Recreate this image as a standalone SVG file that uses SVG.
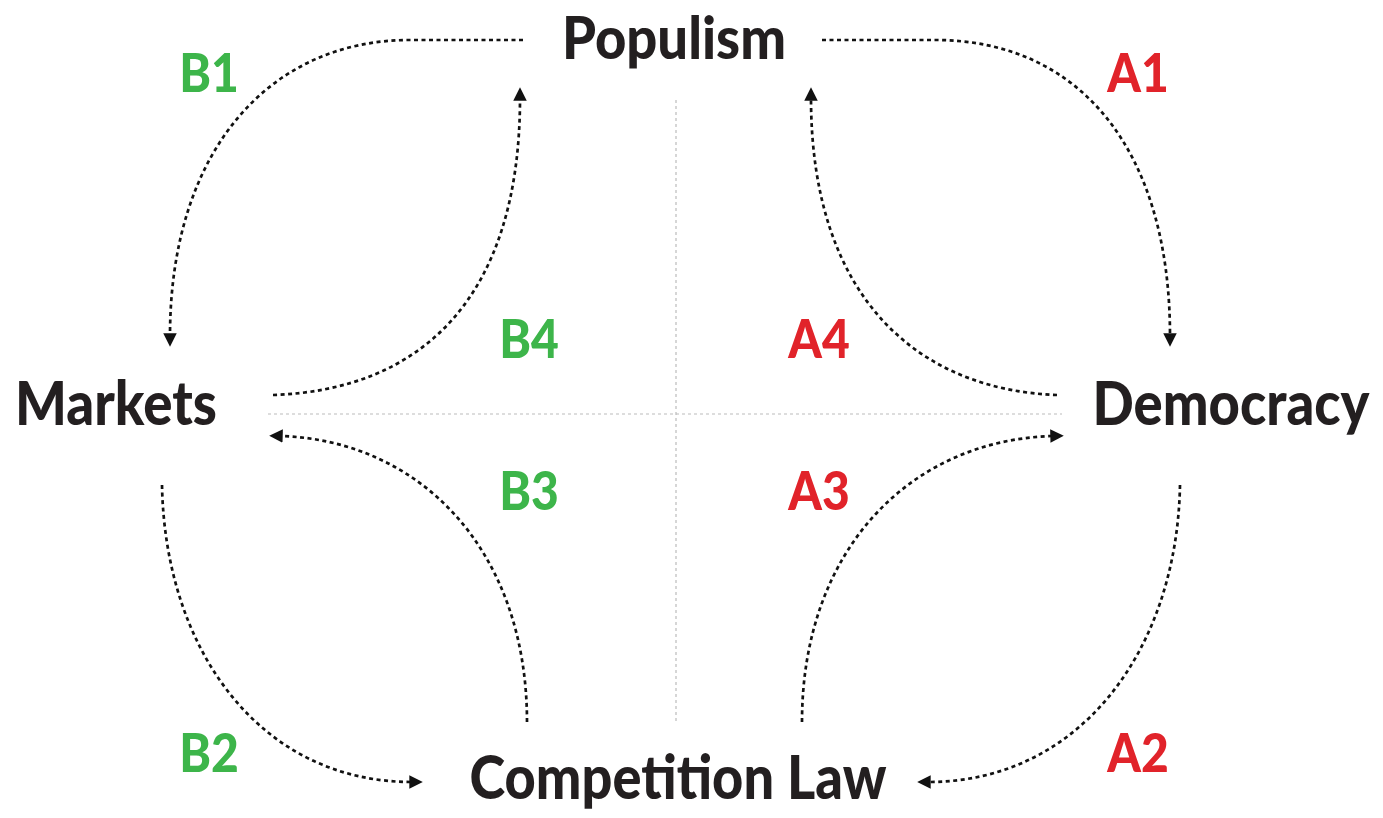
<svg xmlns="http://www.w3.org/2000/svg" width="1383" height="818" viewBox="0 0 1383 818">
<style>
.node{font-family:Lato,"Liberation Sans",sans-serif;font-weight:900;fill:#231f20;font-size:54px}
.lab{font-family:Lato,"Liberation Sans",sans-serif;font-weight:900;font-size:48px}
.g{fill:#3db54a}.r{fill:#e1232a}
.c{fill:none;stroke:#111;stroke-width:2.7;stroke-dasharray:4 3.5}
.d{fill:none;stroke:#bbb;stroke-width:1.2;stroke-dasharray:3 3}
</style>
<defs>
<marker id="ah" viewBox="0 0 10 10" refX="2" refY="5" markerWidth="5" markerHeight="5" orient="auto" markerUnits="strokeWidth">
<path d="M0,0 L10,5 L0,10 z" fill="#111"/>
</marker>
</defs>
<rect width="1383" height="818" fill="#fff"/>
<g id="dividers">
<line class="d" x1="676" y1="100" x2="676" y2="722"/>
<line class="d" x1="268" y1="414" x2="1062" y2="414"/>
</g>
<g id="connectors">
<path class="c" d="M523 40 L410 40 C270 40 170 150 170 336" marker-end="url(#ah)"/>
<path class="c" d="M273 395 C420 390 520 300 520 98" marker-end="url(#ah)"/>
<path class="c" d="M527 722 C527 550 420 440 280 436" marker-end="url(#ah)"/>
<path class="c" d="M162 485 C165 650 260 782 412 782" marker-end="url(#ah)"/>
<path class="c" d="M822 40 L935 40 C1080 40 1170 150 1170 336" marker-end="url(#ah)"/>
<path class="c" d="M1057 395 C920 390 811 300 811 98" marker-end="url(#ah)"/>
<path class="c" d="M802 722 C802 550 910 440 1053 436" marker-end="url(#ah)"/>
<path class="c" d="M1180 485 C1177 650 1080 782 928 782" marker-end="url(#ah)"/>
</g>
<g id="populism"><text class="node" transform="translate(674,59) scale(1,1.1)" text-anchor="middle" textLength="224" lengthAdjust="spacingAndGlyphs">Populism</text></g>
<g id="markets"><text class="node" transform="translate(116,425) scale(1,1.12)" text-anchor="middle" textLength="202" lengthAdjust="spacingAndGlyphs">Markets</text></g>
<g id="democracy"><text class="node" transform="translate(1231,425) scale(1,1.12)" text-anchor="middle" textLength="277" lengthAdjust="spacingAndGlyphs">Democracy</text></g>
<g id="competition-law"><text class="node" transform="translate(678,799) scale(1,1.12)" text-anchor="middle" textLength="417" lengthAdjust="spacingAndGlyphs">Competition Law</text></g>
<g id="labels">
<text class="lab g" transform="translate(209,92) scale(1,1.1)" text-anchor="middle">B1</text>
<text class="lab r" transform="translate(1138,92) scale(1,1.1)" text-anchor="middle">A1</text>
<text class="lab g" transform="translate(529,358) scale(1,1.1)" text-anchor="middle">B4</text>
<text class="lab r" transform="translate(819,358) scale(1,1.1)" text-anchor="middle">A4</text>
<text class="lab g" transform="translate(529,510) scale(1,1.1)" text-anchor="middle">B3</text>
<text class="lab r" transform="translate(819,510) scale(1,1.1)" text-anchor="middle">A3</text>
<text class="lab g" transform="translate(209,772) scale(1,1.1)" text-anchor="middle">B2</text>
<text class="lab r" transform="translate(1138,772) scale(1,1.1)" text-anchor="middle">A2</text>
</g>
</svg>
